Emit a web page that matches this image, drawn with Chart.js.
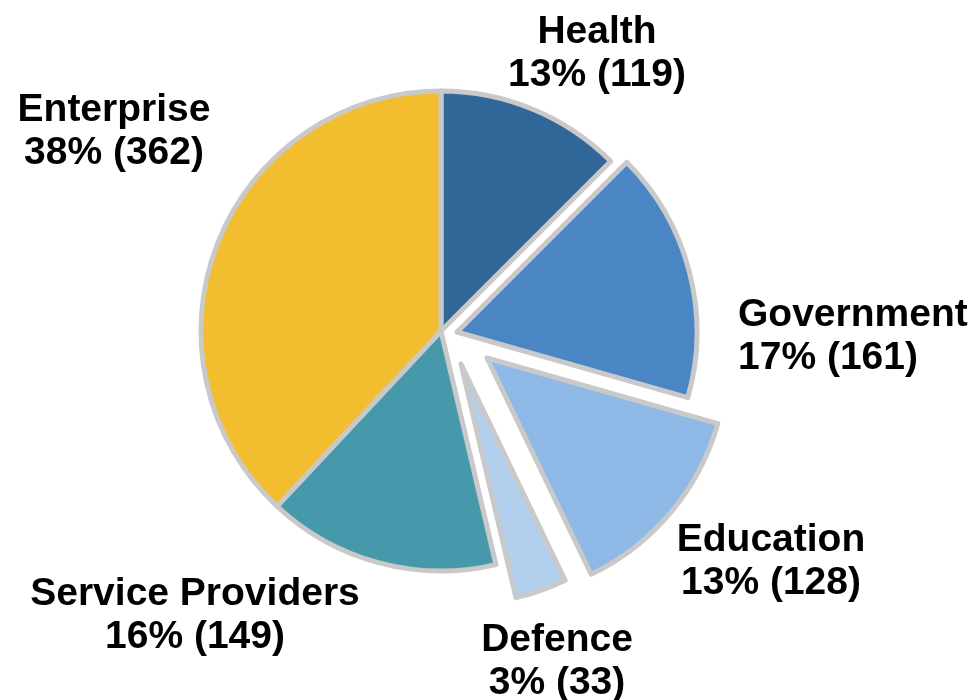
<!DOCTYPE html>
<html>
<head>
<meta charset="utf-8">
<script src="https://cdn.jsdelivr.net/npm/chart.js@4.4.0/dist/chart.umd.min.js"></script>
<style>
    html, body { margin: 0; padding: 0; background: #fff; }
</style>
</head>
<body>
<canvas id="sectorChart" width="977" height="700"></canvas>
<script>
// data
const categories = ['Health', 'Government', 'Education', 'Defence', 'Service Providers', 'Enterprise'];
const counts = [119, 161, 128, 33, 149, 362];

const total = counts.reduce((a, b) => a + b, 0);
const pctOf = i => Math.round(counts[i] / total * 100);

// pulls a slice away from the centre by a small shift (Excel style explosion)
const explodePlugin = {
    id: 'explode',
    afterDatasetUpdate(chart, args, opts) {
        const meta = chart.getDatasetMeta(args.index);
        meta.data.forEach((arc, i) => {
            const shift = (opts.shifts || [])[i];
            if (!shift || arc._exploded) return;
            arc._exploded = true;
            const baseDraw = arc.draw;
            arc.draw = function (ctx, area) {
                ctx.save();
                ctx.translate(shift[0], shift[1]);
                baseDraw.call(this, ctx, area);
                ctx.restore();
            };
        });
    }
};

// two-line labels: name, then "pct% (count)"
const labelPlugin = {
    id: 'sliceLabels',
    afterDatasetsDraw(chart, args, opts) {
        const arcs = chart.getDatasetMeta(0).data;
        if (!arcs.length) return;
        const cx = arcs[0].x, cy = arcs[0].y;
        const ctx = chart.ctx;
        ctx.save();
        ctx.font = opts.font;
        ctx.fillStyle = opts.color;
        ctx.textBaseline = 'alphabetic';
        opts.places.forEach((p, i) => {
            ctx.textAlign = p.align;
            const lines = [categories[i], pctOf(i) + '% (' + counts[i] + ')'];
            lines.forEach((t, k) => ctx.fillText(t, cx + p.dx, cy + p.dy + k * opts.lineHeight));
        });
        ctx.restore();
    }
};

new Chart(document.getElementById('sectorChart'), {
    type: 'pie',
    data: {
        labels: categories,
        datasets: [{
            data: counts,
            backgroundColor: ['#316699', '#4a86c4', '#8eb8e5', '#b2d0ee', '#4699aa', '#f2bd2f'],
            borderColor: '#c9c9c9',
            borderWidth: 5,
            borderJoinStyle: 'round',
            hoverOffset: 0
        }]
    },
    options: {
        responsive: false,
        animation: false,
        events: [],
        radius: 240,
        layout: { padding: { left: 0, right: 95, top: 0, bottom: 38 } },
        plugins: {
            legend: { display: false },
            tooltip: { enabled: false },
            explode: { shifts: [null, [16, 1], [46, 27], [20, 33], null, null] },
            sliceLabels: {
                font: 'bold 39px "Liberation Sans", Arial, sans-serif',
                color: '#000',
                lineHeight: 43,
                places: [
                    { align: 'center', dx: 156, dy: -288 },
                    { align: 'left', dx: 297, dy: -5 },
                    { align: 'center', dx: 330, dy: 220 },
                    { align: 'center', dx: 116, dy: 320 },
                    { align: 'center', dx: -246, dy: 274 },
                    { align: 'center', dx: -327, dy: -210 }
                ]
            }
        }
    },
    plugins: [explodePlugin, labelPlugin]
});
</script>
</body>
</html>
